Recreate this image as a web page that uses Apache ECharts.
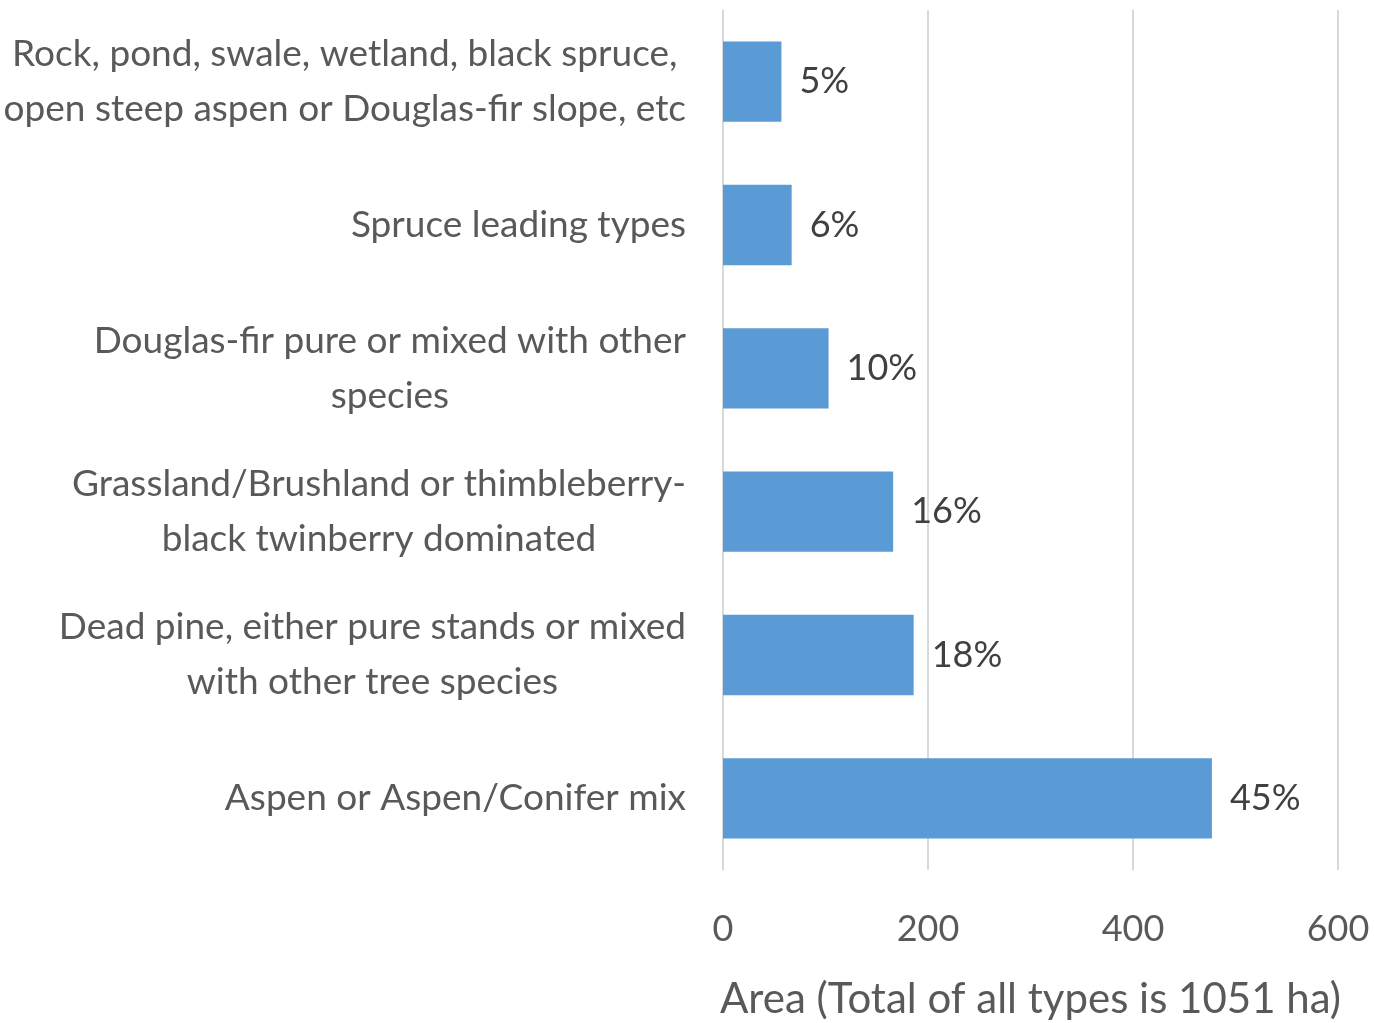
<!DOCTYPE html>
<html><head><meta charset="utf-8">
<style>html,body{margin:0;padding:0;background:#fff}#c{width:1374px;height:1023px}</style>
<script src="https://cdn.jsdelivr.net/npm/echarts@6/dist/echarts.min.js"></script>
</head><body><div id="c"></div>
<script>
const categories = [
  "Rock, pond, swale, wetland, black spruce,\nopen steep aspen or Douglas-fir slope, etc",
  "Spruce leading types",
  "Douglas-fir pure or mixed with other\nspecies",
  "Grassland/Brushland or thimbleberry-\nblack twinberry dominated",
  "Dead pine, either pure stands or mixed\nwith other tree species",
  "Aspen or Aspen/Conifer mix"
];
const areaValues = [57, 67, 103, 166, 186, 477];
const percentLabels = ["5%", "6%", "10%", "16%", "18%", "45%"];
const xTicks = [0, 200, 400, 600];
const axisTitle = "Area (Total of all types is 1051 ha)";

const FONT = "Lato";
const chart = echarts.init(document.getElementById('c'));
chart.setOption({
  animation: false,
  grid: {left: 723, right: 36, top: 10, bottom: 153, containLabel: false, outerBoundsMode: 'none'},
  xAxis: {
    type: 'value', min: xTicks[0], max: xTicks[xTicks.length-1], interval: 200,
    axisLine: {show: false}, axisTick: {show: false},
    splitLine: {lineStyle: {color: '#d9d9d9', width: 2}},
    axisLabel: {color: '#595959', fontSize: 36, fontFamily: FONT, margin: 41},
    name: axisTitle, nameLocation: 'middle', nameGap: 108,
    nameTextStyle: {color: '#595959', fontSize: 42, fontFamily: FONT}
  },
  yAxis: {
    type: 'category', inverse: true, data: categories,
    axisLine: {show: false}, axisTick: {show: false},
    axisLabel: {
      margin: 37, align: 'right',
      formatter: v => v.split('\n').map(s => '{c|' + s + '}').join('\n'),
      rich: {c: {align: 'center', color: '#595959', fontSize: 37, fontFamily: FONT, lineHeight: 55}}
    }
  },
  series: [{
    type: 'bar', data: areaValues, barCategoryGap: '44%',
    itemStyle: {color: '#5b9bd5'},
    label: {
      show: true, position: 'right', distance: 18,
      formatter: p => percentLabels[p.dataIndex],
      color: '#404040', fontSize: 36, fontFamily: FONT
    }
  }]
});
</script></body></html>
